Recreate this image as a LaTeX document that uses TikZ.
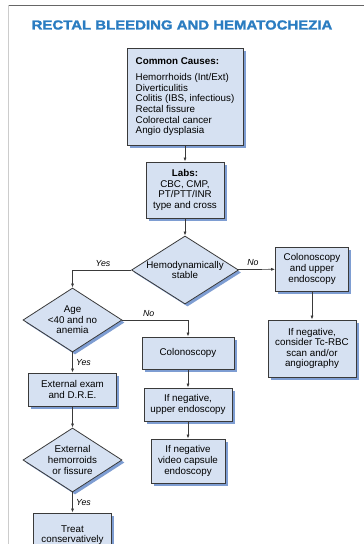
\documentclass[tikz,border=0pt]{standalone}
\usepackage{fontspec}
\setmainfont{Liberation Sans}
\newfontfamily\titlefont[FakeStretch=1.15,FakeBold=1.6]{Liberation Sans Bold}
\usetikzlibrary{arrows.meta,shapes.geometric,shadows}
\definecolor{boxfill}{HTML}{D6E1F2}
\definecolor{boxshade}{HTML}{7E9DD2}
\definecolor{titleblue}{HTML}{2A7CC1}
\definecolor{edge}{HTML}{3A3A3A}

\begin{document}
\begin{tikzpicture}[x=1pt,y=-1pt,font=\fontsize{9.8}{10.6}\selectfont,
  >={Latex[length=4pt,width=3pt]},
  shade/.style={drop shadow={shadow xshift=2.5pt,shadow yshift=-2.5pt,fill=boxshade,opacity=1}},
  box/.style={draw=edge,fill=boxfill,line width=.8pt,shade,align=center,inner sep=0pt},
  choice/.style={diamond,shape aspect=1.55,draw=edge,fill=boxfill,line width=.8pt,shade,align=center,inner sep=0pt},
  link/.style={->,draw=edge,line width=.7pt},
  answer/.style={font=\fontsize{8.8}{10}\selectfont\itshape}]
\useasboundingbox (0,0) rectangle (364,544);
\clip (0,0) rectangle (364,544);
\fill[white] (0,0) rectangle (364,544);
% page rules
\draw[gray!80!black,line width=.8pt] (8,5) -- (364,5);
\draw[gray!40,line width=.8pt] (8,5) -- (8,544);
\node (title) at (182,25) {\titlefont\fontsize{13}{15}\selectfont\color{titleblue}RECTAL BLEEDING AND HEMATOCHEZIA};

% main column
\node[box,minimum width=116pt,minimum height=97pt,align=left] (causes) at (185,96.5)
  {\textbf{Common Causes:}\\[6pt]Hemorrhoids (Int/Ext)\\Diverticulitis\\Colitis (IBS, infectious)\\Rectal fissure\\Colorectal cancer\\Angio dysplasia};
\node[box,minimum width=78pt,minimum height=56pt] (labs) at (185,190) {\textbf{Labs:}\\CBC, CMP,\\PT/PTT/INR\\type and cross};
\node[choice,minimum width=107pt,minimum height=68pt] (stable) at (185,270) {Hemodynamically\\stable};

% unstable branch
\node[box,minimum width=73pt,minimum height=44pt] (colup) at (312,269) {Colonoscopy\\and upper\\endoscopy};
\node[box,minimum width=88pt,minimum height=57pt] (rbc) at (312,348.5) {If negative,\\consider Tc-RBC\\scan and/or\\angiography};

% stable branch
\node[choice,minimum width=99pt,minimum height=64pt] (age) at (72.5,320) {Age\\<40 and no\\anemia};
\node[box,minimum width=92pt,minimum height=32pt] (colon) at (188,353) {Colonoscopy};
\node[box,minimum width=88pt,minimum height=33pt] (upper) at (188,404.5) {If negative,\\upper endoscopy};
\node[box,minimum width=74pt,minimum height=44pt] (capsule) at (188,461) {If negative\\video capsule\\endoscopy};
\node[box,minimum width=88pt,minimum height=33pt] (exam) at (72.5,389.5) {External exam\\and D.R.E.};
\node[choice,minimum width=99pt,minimum height=64pt] (hemo) at (72.5,460) {External\\hemorroids\\or fissure};
\node[box,minimum width=78pt,minimum height=44pt] (treat) at (72.5,535) {Treat\\conservatively};

\draw[link] (causes) -- (labs);
\draw[link] (labs) -- (stable);
\draw[link] (stable.west) -| node[answer,pos=.24,above]{Yes} (age.north);
\draw[link] (stable) -- node[answer,pos=.4,above]{No} (colup);
\draw[link] (colup) -- (rbc);
\draw[link] (age.east) -| node[answer,pos=.2,above]{No} (colon.north);
\draw[link] (age) -- node[answer,right]{Yes} (exam);
\draw[link] (colon) -- (upper);
\draw[link] (upper) -- (capsule);
\draw[link] (exam) -- (hemo);
\draw[link] (hemo) -- node[answer,right]{Yes} (treat);
\end{tikzpicture}
\end{document}
